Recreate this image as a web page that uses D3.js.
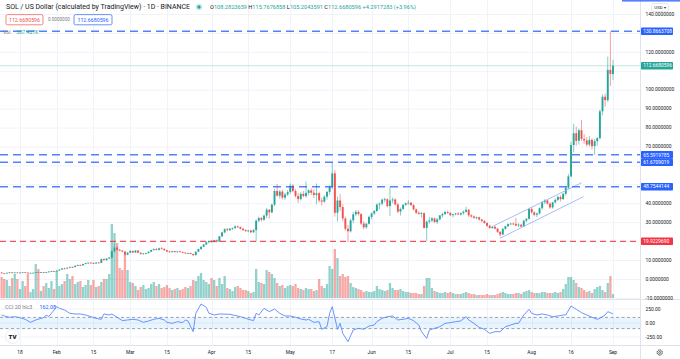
<!DOCTYPE html>
<html><head><meta charset="utf-8">
<script src="https://cdn.jsdelivr.net/npm/d3@7"></script>
<style>
html,body{margin:0;padding:0;background:#fff;}
svg{display:block;font-family:Roboto,"Liberation Sans",Arial,sans-serif;}
</style></head>
<body><svg id="c" width="680" height="359"></svg>
<script>
// ---------------- DATA ----------------
const startDate = "2021-01-11", endDate = "2021-09-01";
const opens = [
3.45,3.05,2.95,3.30,3.50,3.30,3.45,3.35,3.40,3.55,3.40,3.05,3.25,3.30,3.60,3.55,3.60,3.40,3.70,3.95,4.20,
4.05,4.50,5.00,5.60,5.50,6.00,6.40,6.30,7.00,7.40,7.20,7.90,8.40,8.60,8.50,8.20,8.70,8.50,10.50,10.00,10.80,11.30,14.60,16.60,15.40,15.00,14.50,12.90,
13.90,14.80,14.00,15.00,13.90,13.30,13.50,13.70,14.40,15.30,15.80,15.40,16.20,15.90,15.20,14.50,14.30,14.70,14.20,14.60,14.30,13.90,13.60,13.70,13.20,12.60,14.40,15.80,17.00,18.20,19.40,
20.10,19.60,20.50,19.80,22.50,24.60,26.30,25.80,26.60,26.90,27.80,27.40,26.50,25.80,25.30,25.60,24.70,25.80,30.80,32.20,31.30,33.50,36.60,35.20,39.30,46.50,44.00,46.20,43.00,44.60,
45.90,49.30,46.50,43.80,42.20,45.00,43.80,45.50,46.80,45.60,44.40,45.30,41.50,40.90,43.50,46.00,48.60,55.80,35.00,41.50,38.00,32.00,26.50,25.20,31.00,34.20,35.50,34.30,29.30,27.30,29.20,
32.80,34.60,35.90,39.30,39.80,41.90,42.10,38.50,41.50,42.00,39.40,35.60,37.00,39.20,40.00,40.30,39.00,36.80,35.00,34.40,34.80,27.00,30.30,30.90,32.00,30.10,31.50,33.60,34.30,35.40,
35.00,33.70,34.20,34.60,34.10,34.80,35.50,36.60,33.60,33.00,32.30,32.60,31.40,30.60,29.60,28.10,27.00,27.60,26.60,24.90,23.50,26.50,27.90,29.00,29.30,29.10,28.30,28.70,27.70,30.80,31.80,
37.00,35.20,33.90,34.60,37.40,40.60,41.50,39.80,37.80,40.50,41.80,43.30,42.20,45.00,48.20,54.20,70.80,77.00,73.00,78.60,74.00,73.20,71.00,73.50,70.20,72.80,74.40,88.60,96.30,94.50,110.50,
108.2823659];
const highs = [
3.60,3.20,3.35,3.60,3.60,3.55,3.55,3.50,3.75,3.60,3.45,3.35,3.40,3.70,3.85,3.70,3.65,3.80,4.10,4.30,4.30,
4.60,5.20,5.70,6.00,6.10,6.60,6.60,7.20,7.60,7.70,8.00,8.50,8.90,9.00,8.70,8.90,8.90,10.80,10.90,11.20,11.60,15.20,18.90,17.20,16.00,15.30,14.80,14.20,
15.20,15.00,15.30,15.40,14.00,13.80,13.90,14.60,15.50,16.20,16.30,16.60,16.90,16.20,15.40,14.90,14.90,14.90,14.80,14.90,14.50,14.30,13.90,14.00,13.40,14.60,16.00,17.30,18.50,19.80,20.40,
20.60,20.80,20.90,22.80,25.00,26.80,27.00,26.90,27.20,28.30,28.20,27.80,27.00,26.30,26.00,26.20,26.50,31.50,33.00,32.80,34.00,37.50,37.00,39.80,47.50,50.20,47.00,47.20,45.50,47.00,
50.50,50.00,47.50,45.50,45.80,46.50,51.50,47.50,47.80,47.50,50.50,46.00,43.00,44.20,46.50,49.50,61.30,57.50,43.50,44.80,39.50,33.00,28.50,31.80,35.50,36.50,36.30,34.80,30.50,29.60,33.50,
35.20,36.50,40.00,40.50,42.50,43.00,42.60,48.50,43.00,42.60,40.20,37.80,39.60,40.50,41.80,40.80,39.80,37.20,35.80,35.50,35.20,30.80,32.80,32.80,32.50,32.20,33.80,35.00,36.00,36.20,
35.30,34.50,35.00,35.30,35.20,36.20,38.20,36.90,34.30,33.60,33.00,32.90,31.80,31.20,30.00,28.80,28.00,28.20,27.00,25.30,26.90,28.20,29.30,29.60,29.80,32.20,29.50,29.20,31.30,32.30,37.60,
38.00,35.80,35.10,37.90,41.20,42.20,42.00,40.40,40.80,42.50,44.00,44.20,45.50,48.80,55.50,72.50,82.00,80.50,79.50,84.00,76.50,75.00,75.50,74.50,74.00,75.00,89.50,97.50,98.00,117.50,130.8663708,
115.7676858];
const lows = [
2.90,2.85,2.90,3.20,3.15,3.25,3.25,3.20,3.35,3.20,2.95,2.90,3.15,3.25,3.45,3.35,3.30,3.35,3.60,3.85,3.95,
4.00,4.40,4.90,5.20,5.40,5.90,6.00,6.20,6.80,7.00,7.10,7.80,8.20,8.30,7.90,8.00,8.30,8.40,9.70,9.60,10.50,10.60,13.80,15.00,14.60,14.10,12.40,12.50,
13.60,13.80,13.80,13.60,12.70,12.90,13.10,13.40,14.20,14.90,15.10,15.00,15.60,15.00,14.20,14.00,13.90,14.00,14.00,14.10,13.60,13.30,13.20,13.00,12.10,12.50,14.20,15.50,16.80,17.90,18.90,
19.00,19.20,19.30,19.60,22.20,24.20,25.20,25.50,26.00,26.50,27.00,26.20,25.40,24.90,24.60,24.20,24.30,19.90,30.00,30.50,30.80,32.00,31.80,34.80,38.50,43.50,42.50,42.00,41.80,43.80,
45.00,45.80,43.00,40.20,41.50,43.20,43.00,44.20,44.50,42.80,39.50,40.50,38.80,40.20,42.00,44.50,47.50,33.00,30.50,36.00,30.50,25.50,19.60,24.50,29.50,33.20,33.50,28.50,26.30,26.50,28.70,
31.50,33.80,35.50,36.80,38.80,40.50,37.80,33.40,40.00,38.80,34.80,33.50,36.50,38.60,39.30,38.80,36.20,34.30,33.90,32.50,26.50,20.00,29.20,30.00,29.50,29.00,31.00,32.50,33.80,34.30,
33.20,32.50,33.60,33.80,33.40,34.00,35.00,32.80,32.40,31.80,31.50,30.80,30.10,29.00,27.40,26.40,26.50,26.20,24.30,22.40,23.20,26.00,27.40,28.40,28.50,28.00,27.30,27.20,27.40,30.00,31.30,
34.50,33.20,32.60,34.10,36.50,39.60,39.30,37.00,37.20,39.80,41.20,41.00,41.80,44.00,47.50,53.80,67.00,70.50,71.00,73.00,71.50,70.00,70.00,68.50,65.60,70.50,73.80,86.50,91.00,93.50,102.00,
105.2043591];
const closes = [
3.05,2.95,3.30,3.50,3.30,3.45,3.35,3.40,3.55,3.40,3.05,3.25,3.30,3.60,3.55,3.60,3.40,3.70,3.95,4.20,4.05,
4.50,5.00,5.60,5.50,6.00,6.40,6.30,7.00,7.40,7.20,7.90,8.40,8.60,8.50,8.20,8.70,8.50,10.50,10.00,10.80,11.30,14.60,16.60,15.40,15.00,14.50,12.90,13.90,
14.80,14.00,15.00,13.90,13.30,13.50,13.70,14.40,15.30,15.80,15.40,16.20,15.90,15.20,14.50,14.30,14.70,14.20,14.60,14.30,13.90,13.60,13.70,13.20,12.60,14.40,15.80,17.00,18.20,19.40,20.10,
19.60,20.50,19.80,22.50,24.60,26.30,25.80,26.60,26.90,27.80,27.40,26.50,25.80,25.30,25.60,24.70,25.80,30.80,32.20,31.30,33.50,36.60,35.20,39.30,46.50,44.00,46.20,43.00,44.60,45.90,
49.30,46.50,43.80,42.20,45.00,43.80,45.50,46.80,45.60,44.40,45.30,41.50,40.90,43.50,46.00,48.60,55.80,35.00,41.50,38.00,32.00,26.50,25.20,31.00,34.20,35.50,34.30,29.30,27.30,29.20,32.80,
34.60,35.90,39.30,39.80,41.90,42.10,38.50,41.50,42.00,39.40,35.60,37.00,39.20,40.00,40.30,39.00,36.80,35.00,34.40,34.80,27.00,30.30,30.90,32.00,30.10,31.50,33.60,34.30,35.40,35.00,
33.70,34.20,34.60,34.10,34.80,35.50,36.60,33.60,33.00,32.30,32.60,31.40,30.60,29.60,28.10,27.00,27.60,26.60,24.90,23.50,26.50,27.90,29.00,29.30,29.10,28.30,28.70,27.70,30.80,31.80,37.00,
35.20,33.90,34.60,37.40,40.60,41.50,39.80,37.80,40.50,41.80,43.30,42.20,45.00,48.20,54.20,70.80,77.00,73.00,78.60,74.00,73.20,71.00,73.50,70.20,72.80,74.40,88.60,96.30,94.50,110.50,108.3762313,
112.6680596];
// volume in thousands
const volumes = [
2100,1900,1800,1200,2000,2400,1900,900,1700,1200,2400,600,900,3400,2900,700,1200,1500,1000,1700,900,
2700,1200,1400,1700,2400,1900,2200,1400,1600,1700,1100,1300,1800,1300,1800,1100,1200,1600,1900,1900,2400,7400,6500,5500,3000,2800,4400,2800,
1600,1500,1200,800,1100,1300,900,1000,1400,1600,1200,1400,1000,1100,1300,1000,800,900,1000,800,900,1100,1000,1200,1800,1700,2200,2500,1800,1600,1400,
2000,1800,1200,2000,1400,2200,1000,900,700,1100,1200,1000,800,800,700,500,600,2900,1600,1500,1400,2800,2600,2400,2000,1500,1200,1300,1000,1200,
1300,1200,1400,1000,900,800,1000,900,900,700,800,1900,1200,1000,1400,3200,2900,4900,4000,2200,2400,2100,2200,1500,1100,1000,900,800,600,700,600,
600,700,1200,900,800,700,800,1500,1000,800,800,900,700,600,600,500,500,500,400,400,1200,2000,2000,1000,700,600,500,500,600,500,
600,500,400,400,400,500,600,500,400,400,300,300,300,300,400,300,300,300,400,500,600,500,400,400,400,500,500,400,600,700,800,
600,500,500,500,600,600,500,500,500,600,500,600,900,1400,2100,2100,1800,1500,1100,1000,800,600,700,500,900,1100,1200,800,600,1500,2200,
387.427];

const cciDates = ["2021-01-11","2021-01-12","2021-01-14","2021-01-16","2021-01-18","2021-01-20","2021-01-22","2021-01-24","2021-01-26","2021-01-27","2021-01-28","2021-01-29","2021-01-31",
"2021-02-01","2021-02-02","2021-02-04","2021-02-06","2021-02-08","2021-02-10","2021-02-12","2021-02-14","2021-02-16","2021-02-18","2021-02-19","2021-02-21","2021-02-22","2021-02-24","2021-02-26","2021-02-28",
"2021-03-02","2021-03-04","2021-03-06","2021-03-08","2021-03-10","2021-03-12","2021-03-14","2021-03-15","2021-03-17","2021-03-19","2021-03-21","2021-03-22","2021-03-23","2021-03-25","2021-03-26","2021-03-28","2021-03-30","2021-03-31",
"2021-04-02","2021-04-04","2021-04-08","2021-04-12","2021-04-14","2021-04-16","2021-04-17","2021-04-18","2021-04-19","2021-04-21","2021-04-23","2021-04-25","2021-04-27","2021-04-29",
"2021-05-01","2021-05-03","2021-05-05","2021-05-07","2021-05-08","2021-05-10","2021-05-12","2021-05-13","2021-05-15","2021-05-16","2021-05-17","2021-05-19","2021-05-20","2021-05-21","2021-05-23","2021-05-25","2021-05-27","2021-05-29","2021-05-31",
"2021-06-02","2021-06-03","2021-06-05","2021-06-07","2021-06-09","2021-06-11","2021-06-13","2021-06-15","2021-06-17","2021-06-19","2021-06-20","2021-06-22","2021-06-23","2021-06-25","2021-06-27","2021-06-29",
"2021-07-01","2021-07-03","2021-07-05","2021-07-07","2021-07-08","2021-07-10","2021-07-12","2021-07-14","2021-07-16","2021-07-18","2021-07-20","2021-07-22","2021-07-24","2021-07-26","2021-07-27","2021-07-29","2021-07-31",
"2021-08-01","2021-08-03","2021-08-05","2021-08-07","2021-08-09","2021-08-11","2021-08-13","2021-08-14","2021-08-16","2021-08-18","2021-08-20","2021-08-22","2021-08-24","2021-08-26","2021-08-27","2021-08-29","2021-08-30","2021-08-31","2021-09-01"];
const cciValues = [143,125,102,113,95,66,12,54,83,95,143,115,232,
292,262,232,173,161,161,143,113,83,66,161,143,161,102,42,54,
66,54,12,36,66,83,54,12,-6,24,6,54,36,-155,173,340,280,173,
143,161,155,113,83,54,42,173,143,262,202,250,173,125,
125,102,72,54,66,12,24,-113,-66,173,292,-113,-6,-185,-333,-125,-95,-113,-54,
-36,24,83,113,125,54,66,83,42,-36,-155,-274,-125,-95,-66,-6,
6,24,36,113,54,-6,-78,-113,-185,-155,-155,-66,-36,-6,-6,143,244,
173,143,161,143,113,125,143,143,304,244,185,143,102,66,85,143,202,185,162.08];

const priceTicks = [140,120,100,90,80,70,40,30,10,0,-10];
const gridPrices = [140,130,120,110,100,90,80,70,60,50,40,30,20,10,0,-10];
const levelValues = [130.8663708, 65.5919785, 61.6709019, 48.7544144];
const supportValue = 19.9229690;
const lastPrice = 112.6680596;
const cciTicks = [250, 0, -250];
const cciBand = [100, -100];
const timeTickDates = ["2021-01-18","2021-02-01","2021-02-15","2021-03-01","2021-03-15","2021-04-01","2021-04-15","2021-05-01","2021-05-17","2021-06-01","2021-06-15","2021-07-01","2021-07-15","2021-08-01","2021-08-16","2021-09-01"];
const timeTickLabels = ["18","Feb","15","Mar","15","Apr","15","May","17","Jun","15","Jul","15","Aug","16","Sep"];
// channel trend lines: [start date, start price, end date, end price]
const channelUpper = ["2021-07-17T10:00Z", 28.0, "2021-08-20T03:00Z", 50.9];
const channelLower = ["2021-07-19T22:00Z", 21.5, "2021-08-20T17:00Z", 43.5];

// ---------------- CHART ----------------
const UP = "#26a69a", DOWN = "#ef5350", BLUE = "#2962ff";
const plotR = 640, mainB = 299, cciB = 345;
const svg = d3.select("#c");
svg.append("rect").attr("width",680).attr("height",359).attr("fill","#fff");

const dates = d3.utcDay.range(new Date(startDate), d3.utcDay.offset(new Date(endDate), 1));
const bars = dates.map((d,i)=>({d, o:opens[i], h:highs[i], l:lows[i], c:closes[i], v:volumes[i]}));

const x = d3.scaleUtc().domain([new Date(startDate), new Date(endDate)]).range([1.63, 613]);
const y = d3.scaleLinear().domain([0,140]).range([279,14]);
const yv = d3.scaleLinear().domain([0,7500]).range([298,223]);
const yc = d3.scaleLinear().domain([-250,250]).range([337,309]);

const defs = svg.append("defs");
defs.append("clipPath").attr("id","mainClip").append("rect").attr("x",0).attr("y",0).attr("width",plotR).attr("height",mainB);
defs.append("clipPath").attr("id","cciClip").append("rect").attr("x",0).attr("y",mainB).attr("width",plotR).attr("height",cciB-mainB);

// grid
const grid = svg.append("g");
grid.selectAll("line.h").data(gridPrices).join("line").attr("class","h")
  .attr("x1",0).attr("x2",plotR).attr("y1",d=>y(d)+0.5).attr("y2",d=>y(d)+0.5).attr("stroke","#f0f3fa");
grid.selectAll("line.v").data(timeTickDates).join("line").attr("class","v")
  .attr("x1",d=>Math.round(x(new Date(d)))+0.5).attr("x2",d=>Math.round(x(new Date(d)))+0.5)
  .attr("y1",0).attr("y2",cciB).attr("stroke","#f0f3fa");
grid.selectAll("line.c").data(cciTicks).join("line").attr("class","c")
  .attr("x1",0).attr("x2",plotR).attr("y1",d=>yc(d)).attr("y2",d=>yc(d)).attr("stroke","#f0f3fa");

// main pane
const main = svg.append("g").attr("clip-path","url(#mainClip)");
const bw = 1.9, vw = 2.3;
main.append("g").selectAll("rect").data(bars).join("rect")
  .attr("x",d=>x(d.d)-vw/2).attr("width",vw)
  .attr("y",d=>yv(d.v)).attr("height",d=>yv(0)-yv(d.v))
  .attr("fill",d=>d.c>=d.o?UP:DOWN).attr("fill-opacity",0.5);

// price line
main.append("line").attr("x1",0).attr("x2",plotR).attr("y1",y(lastPrice)).attr("y2",y(lastPrice))
  .attr("stroke",UP).attr("stroke-opacity",0.35).attr("stroke-width",0.8);

// candles
const cg = main.append("g");
cg.selectAll("line").data(bars).join("line")
  .attr("x1",d=>x(d.d)).attr("x2",d=>x(d.d)).attr("y1",d=>y(d.h)).attr("y2",d=>y(d.l))
  .attr("stroke",d=>d.c>=d.o?UP:DOWN).attr("stroke-width",0.8).attr("stroke-opacity",0.7);
cg.selectAll("rect").data(bars).join("rect")
  .attr("x",d=>x(d.d)-bw/2).attr("width",bw)
  .attr("y",d=>y(Math.max(d.o,d.c))).attr("height",d=>Math.max(0.8,Math.abs(y(d.o)-y(d.c))))
  .attr("fill",d=>d.c>=d.o?UP:DOWN);

// channel lines
[channelUpper, channelLower].forEach(ch=>{
  main.append("line").attr("x1",x(new Date(ch[0]))).attr("y1",y(ch[1]))
    .attr("x2",x(new Date(ch[2]))).attr("y2",y(ch[3]))
    .attr("stroke","#9fb6f5").attr("stroke-width",0.9);
});

// horizontal levels
main.selectAll("line.lvl").data(levelValues).join("line").attr("class","lvl")
  .attr("x1",0).attr("x2",plotR).attr("y1",d=>y(d)).attr("y2",d=>y(d))
  .attr("stroke",BLUE).attr("stroke-width",1.5).attr("stroke-dasharray","8,5").attr("stroke-opacity",0.8);
main.append("line").attr("x1",0).attr("x2",plotR).attr("y1",y(supportValue)).attr("y2",y(supportValue))
  .attr("stroke","#f23645").attr("stroke-width",1.3).attr("stroke-dasharray","6,4").attr("stroke-opacity",0.85);

// CCI pane
const cci = svg.append("g").attr("clip-path","url(#cciClip)");
cci.append("rect").attr("x",0).attr("width",plotR).attr("y",yc(cciBand[0])).attr("height",yc(cciBand[1])-yc(cciBand[0]))
  .attr("fill","#2196f3").attr("fill-opacity",0.1);
cci.selectAll("line.band").data(cciBand).join("line").attr("class","band")
  .attr("x1",0).attr("x2",plotR).attr("y1",d=>yc(d)).attr("y2",d=>yc(d))
  .attr("stroke","#787b86").attr("stroke-width",0.7).attr("stroke-dasharray","3,2.5");
const cciPts = cciDates.map((d,i)=>({d:new Date(d), v:cciValues[i]}));
cci.append("path").datum(cciPts)
  .attr("d", d3.line().x(d=>x(d.d)).y(d=>yc(d.v)))
  .attr("fill","none").attr("stroke","#5a88ff").attr("stroke-width",0.9);

// separators
const sep = "#e0e3eb";
svg.append("line").attr("x1",0).attr("x2",680).attr("y1",mainB+0.5).attr("y2",mainB+0.5).attr("stroke",sep);
svg.append("line").attr("x1",0).attr("x2",680).attr("y1",cciB+0.5).attr("y2",cciB+0.5).attr("stroke",sep);
svg.append("line").attr("x1",plotR+0.5).attr("x2",plotR+0.5).attr("y1",0).attr("y2",359).attr("stroke",sep);

// right axis ticks
const axisFont = 4.9;
svg.append("g").selectAll("text").data(priceTicks).join("text")
  .attr("x",645.5).attr("y",d=>y(d)+1.7).attr("font-size",axisFont).attr("fill","#131722")
  .text(d=>d.toFixed(7));
svg.append("g").selectAll("text").data(cciTicks).join("text")
  .attr("x",645.5).attr("y",d=>yc(d)+1.7).attr("font-size",axisFont).attr("fill","#131722")
  .text(d=>d.toFixed(2));

// right axis level labels
const labelData = [
  {v:levelValues[0], c:BLUE},{v:lastPrice, c:UP},{v:levelValues[1], c:BLUE},
  {v:levelValues[2], c:BLUE},{v:levelValues[3], c:BLUE},{v:supportValue, c:"#f23645"}];
const lg = svg.append("g");
lg.selectAll("rect").data(labelData).join("rect")
  .attr("x",641).attr("width",32).attr("y",d=>y(d.v)-3.8).attr("height",7.6).attr("rx",0.8).attr("fill",d=>d.c);
lg.selectAll("text").data(labelData).join("text")
  .attr("x",643.3).attr("y",d=>y(d.v)+1.7).attr("font-size",axisFont).attr("fill","#fff")
  .text(d=>d.v.toFixed(7));

// time axis
svg.append("g").selectAll("text").data(timeTickDates).join("text")
  .attr("x",d=>x(new Date(d))).attr("y",353.8).attr("font-size",axisFont).attr("text-anchor","middle").attr("fill","#131722")
  .text((d,i)=>timeTickLabels[i]);

// header
svg.append("text").attr("x",6).attr("y",9.4).attr("font-size",6.8).attr("fill","#131722")
  .attr("textLength",184).attr("lengthAdjust","spacingAndGlyphs")
  .text("SOL / US Dollar (calculated by TradingView) · 1D · BINANCE");
svg.append("circle").attr("cx",199).attr("cy",7).attr("r",3.2).attr("fill",UP).attr("fill-opacity",0.22);
svg.append("circle").attr("cx",199).attr("cy",7).attr("r",1.7).attr("fill",UP);
const ohlc = svg.append("text").attr("x",210).attr("y",9.2).attr("font-size",5.7)
  .attr("textLength",206).attr("lengthAdjust","spacingAndGlyphs");
[["O","#131722"],["108.2823659",UP],[" H","#131722"],["115.7676858",UP],[" L","#131722"],["105.2043591",UP],
 [" C","#131722"],["112.6680596",UP],[" +4.2917283 (+3.96%)",UP]].forEach(p=>ohlc.append("tspan").attr("fill",p[1]).text(p[0]));

svg.append("rect").attr("x",6).attr("y",14.6).attr("width",37).attr("height",10.2).attr("rx",1.6)
  .attr("fill","#fff").attr("stroke",DOWN).attr("stroke-width",0.7);
svg.append("text").attr("x",24.5).attr("y",21.6).attr("text-anchor","middle").attr("font-size",5.3).attr("fill",DOWN).text(lastPrice.toFixed(7));
svg.append("text").attr("x",48).attr("y",21.4).attr("font-size",4.6).attr("fill","#787b86").text((0).toFixed(7));
svg.append("rect").attr("x",74).attr("y",14.6).attr("width",38).attr("height",10.2).attr("rx",1.6)
  .attr("fill","#fff").attr("stroke",BLUE).attr("stroke-width",0.7);
svg.append("text").attr("x",93).attr("y",21.6).attr("text-anchor","middle").attr("font-size",5.3).attr("fill",BLUE).text(lastPrice.toFixed(7));

svg.append("text").attr("x",3).attr("y",33.8).attr("font-size",5.2).attr("fill","#787b86").text("Vol");
svg.append("text").attr("x",16.5).attr("y",33.8).attr("font-size",5.2).attr("fill",UP).text(d3.format(".3f")(volumes[volumes.length-1])+"K");

// CCI legend
svg.append("text").attr("x",5).attr("y",308.8).attr("font-size",5.4).attr("fill","#787b86").text("CCI 20 hlc3");
svg.append("text").attr("x",39.5).attr("y",308.8).attr("font-size",5.4).attr("fill",BLUE).text(d3.format(".2f")(cciValues[cciValues.length-1]));

// TV logo
svg.append("circle").attr("cx",12.5).attr("cy",336.5).attr("r",7).attr("fill","#fff").attr("stroke","#e6e8ee").attr("stroke-width",0.8);
svg.append("text").attr("x",12.5).attr("y",338.8).attr("text-anchor","middle").attr("font-size",6.2).attr("font-weight","900").attr("fill","#131722").text("TV");

// USD button, top strip, gear
svg.append("rect").attr("x",622).attr("y",0).attr("width",58).attr("height",1.6).attr("fill",BLUE).attr("fill-opacity",0.8);
svg.append("rect").attr("x",651.5).attr("y",3.6).attr("width",17).attr("height",8).attr("rx",2).attr("fill","#fff").attr("stroke","#d1d4dc").attr("stroke-width",0.6);
svg.append("text").attr("x",660).attr("y",9.3).attr("text-anchor","middle").attr("font-size",4.4).attr("fill","#131722").text("USD ▾");
svg.append("circle").attr("cx",659.7).attr("cy",352.5).attr("r",2.6).attr("fill","none").attr("stroke","#131722").attr("stroke-width",0.9).attr("stroke-dasharray","1.4,0.6");
svg.append("circle").attr("cx",659.7).attr("cy",352.5).attr("r",1).attr("fill","none").attr("stroke","#131722").attr("stroke-width",0.6);
</script></body></html>
